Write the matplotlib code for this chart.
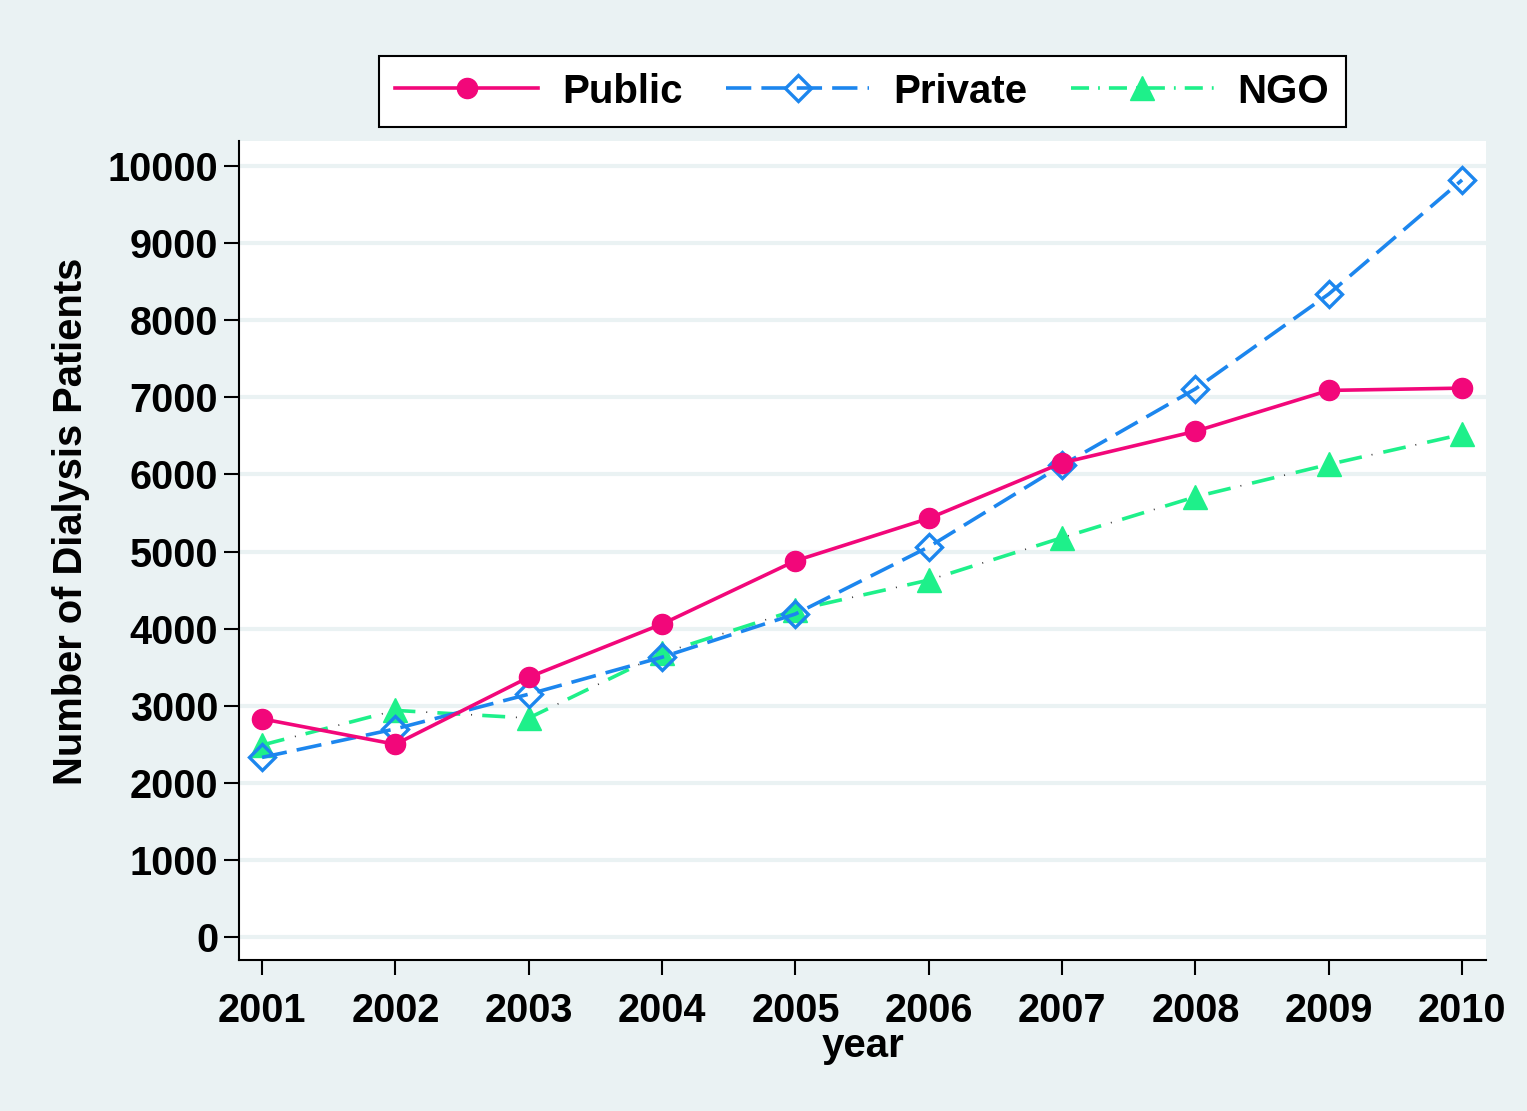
import matplotlib
matplotlib.use("Agg")
import matplotlib.pyplot as plt
from matplotlib.lines import Line2D

years = [2001, 2002, 2003, 2004, 2005, 2006, 2007, 2008, 2009, 2010]
public = [2830, 2500, 3370, 4060, 4880, 5430, 6150, 6560, 7090, 7120]
private = [2330, 2700, 3150, 3630, 4190, 5060, 6120, 7110, 8340, 9820]
ngo = [2490, 2940, 2840, 3680, 4240, 4630, 5180, 5710, 6130, 6520]
yticks = [0, 1000, 2000, 3000, 4000, 5000, 6000, 7000, 8000, 9000, 10000]

c_pub = '#F2077A'
c_priv = '#1C86EE'
c_ngo = '#1EF08A'
bg = '#EAF2F3'
lw = 2.6
priv_ls = (0, (7, 2.8))
ngo_ls = (0, (6.35, 6.1))

plt.rcParams['font.family'] = ['Liberation Sans', 'DejaVu Sans']
plt.rcParams['font.weight'] = 'bold'

fig = plt.figure(figsize=(15.27, 11.11), dpi=100)
fig.patch.set_facecolor(bg)
ax = fig.add_axes([0.1565, 0.1359, 0.8167, 0.7371])
ax.set_facecolor('white')

ax.plot(years, public, '-', color=c_pub, lw=lw, marker='o', ms=14.5, zorder=4)
ax.plot(years, private, color=c_priv, lw=lw, ls=priv_ls, marker='D',
        ms=13.5, mfc='none', mec=c_priv, mew=2.4, zorder=3)
# NGO: green dashes with small dark dots in the gaps
ax.plot(years, ngo, color=c_ngo, lw=lw, ls=ngo_ls, zorder=2)
ax.plot(years, ngo, color='#333333', lw=1.2, ls=(6.6, (0.6, 26.35)), zorder=2)
ax.plot(years, ngo, ls='none', marker='^', ms=17.5, color=c_ngo, zorder=2)

ax.set_xlim(2000.827, 2010.18)
ax.set_ylim(-298, 10324)
ax.set_xticks(years)
ax.set_yticks(yticks)
ax.tick_params(axis='both', direction='out', length=11, width=1.5, labelsize=28.5)
ax.tick_params(axis='x', pad=12)
ax.tick_params(axis='y', pad=4)
ax.grid(axis='y', color=bg, lw=3)
ax.set_axisbelow(True)
for s in ['top', 'right']:
    ax.spines[s].set_visible(False)
for s in ['left', 'bottom']:
    ax.spines[s].set_linewidth(1.5)

ax.set_xlabel('year', fontsize=29, fontweight='bold', labelpad=-2)
ax.set_ylabel('Number of Dialysis Patients', fontsize=28.7, fontweight='bold')
ax.yaxis.set_label_coords(-0.1195, 0.536)

handles = [
    Line2D([], [], color=c_pub, lw=lw, marker='o', ms=14.5),
    Line2D([], [], color=c_priv, lw=lw, ls=priv_ls, marker='D', ms=13.5,
           mfc='none', mec=c_priv, mew=2.4),
    Line2D([], [], color=c_ngo, lw=lw, ls=(0, (5, 2.5, 0.5, 2.5)), marker='^', ms=17.5),
]
leg = fig.legend(handles, ['Public', 'Private', 'NGO'], loc='center',
                 bbox_to_anchor=(0.5648, 0.9176), ncol=3, fontsize=29,
                 frameon=True, fancybox=False, handlelength=3.55, columnspacing=1.07,
                 handletextpad=0.6, borderpad=0.4, borderaxespad=0, framealpha=1)
leg.get_frame().set_edgecolor('black')
leg.get_frame().set_facecolor('white')
leg.get_frame().set_linewidth(1.5)

fig.savefig('out.png', dpi=100, facecolor=fig.get_facecolor())
